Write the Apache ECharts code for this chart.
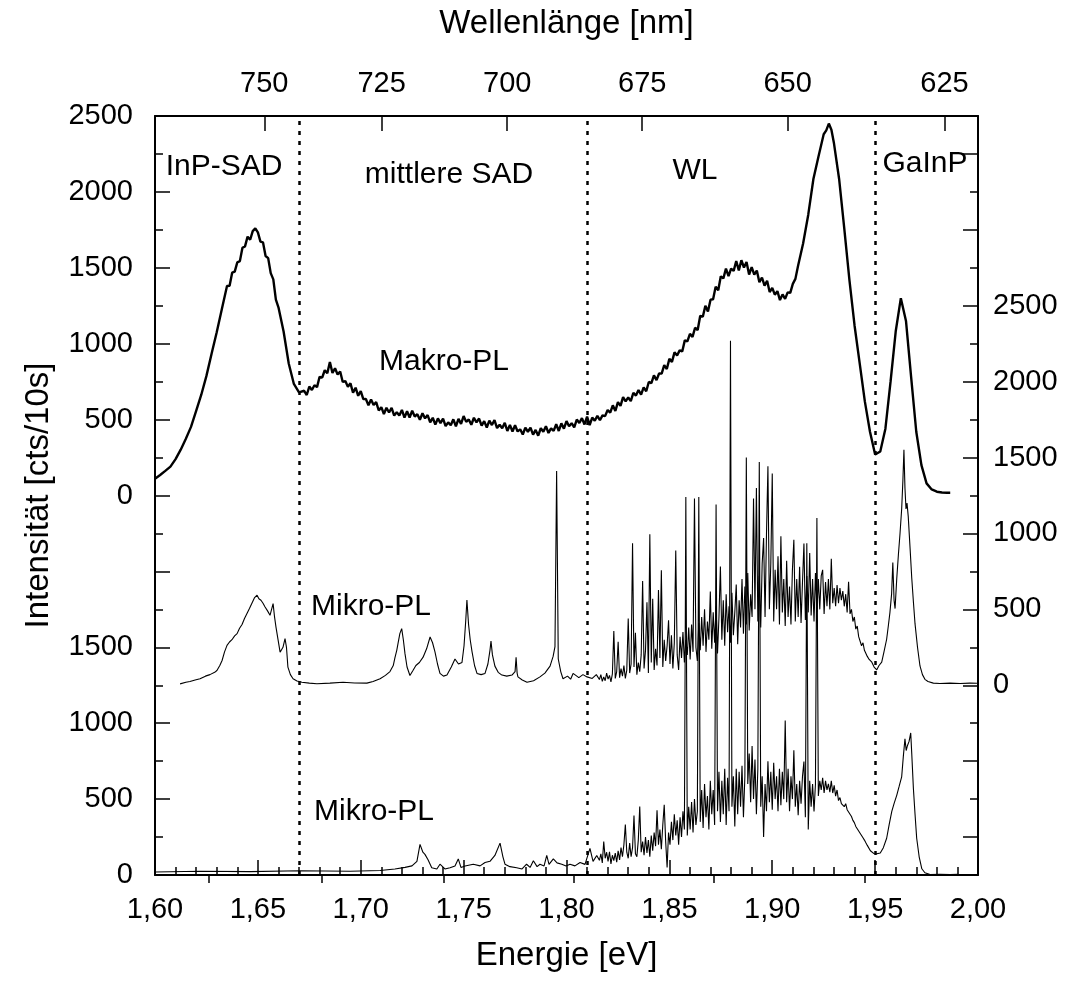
<!DOCTYPE html>
<html><head><meta charset="utf-8">
<script src="https://cdn.jsdelivr.net/npm/echarts@6/dist/echarts.min.js"></script>
<style>html,body{margin:0;padding:0;background:#fff}#c{width:1068px;height:988px}</style>
</head><body><div id="c"></div>
<script>
// ---------- data ----------
const wavelengthTicks = [750, 725, 700, 675, 650, 625];
const wavelengthMinorTicks = [762.5, 737.5, 712.5, 687.5, 662.5, 637.5];
const regionBounds = [1.671, 1.809, 1.9495];
const lowerTickLabels = [0, 500, 1000, 1500];
const upperTickLabels = [0, 500, 1000, 1500, 2000, 2500];
const rightTickLabels = [0, 500, 1000, 1500, 2000, 2500];
const makroOffset = 2500;    // Makro-PL zero on the left scale
const mikroTopOffset = 1250; // upper Mikro-PL zero on the left scale

// Makro-PL [energy eV, counts]
const makroPL = [[1.6000,110],[1.6025,135],[1.6050,162],[1.6075,190],[1.6100,240],[1.6125,302],[1.6150,374],[1.6175,452],[1.6200,558],[1.6225,664],[1.6250,788],[1.6275,934],[1.6300,1076],[1.6325,1228],
[1.63500,1380],[1.63625,1382],[1.63750,1468],[1.63875,1475],[1.64000,1536],[1.64125,1544],[1.64250,1632],[1.64375,1641],[1.64500,1705],[1.64625,1685],[1.64750,1742],[1.64875,1760],[1.65000,1733],[1.65125,1672],[1.65250,1667],[1.65375,1578],[1.65500,1564],[1.65625,1465],[1.65750,1424],[1.65875,1290],[1.66000,1240],
[1.6625,1080],[1.6650,870],[1.6675,735],[1.6700,680],
[1.67250,690],[1.67375,662],[1.67500,718],[1.67625,695],[1.67750,726],[1.67875,714],[1.68000,782],[1.68125,776],[1.68250,825],[1.68375,805],[1.68500,880],[1.68625,807],[1.68750,838],[1.68875,797],[1.69000,817],[1.69125,748],[1.69250,754],[1.69375,717],[1.69500,739],[1.69625,677],[1.69750,710],[1.69875,657],[1.70000,688],[1.70125,635],[1.70250,636],[1.70375,594],[1.70500,632],[1.70625,596],[1.70750,615],[1.70875,560],[1.71000,582],[1.71125,537],[1.71250,578],[1.71375,547],[1.71500,577],[1.71625,526],[1.71750,549],[1.71875,527],[1.72000,564],[1.72125,513],[1.72250,555],[1.72375,514],[1.72500,558],[1.72625,520],[1.72750,536],[1.72875,499],[1.73000,542],[1.73125,508],[1.73250,530],[1.73375,482],[1.73500,512],[1.73625,467],[1.73750,508],[1.73875,477],[1.74000,507],[1.74125,457],[1.74250,482],[1.74375,463],[1.74500,502],[1.74625,456],[1.74750,505],[1.74875,472],[1.75000,523],[1.75125,485],[1.75250,501],[1.75375,466],[1.75500,512],[1.75625,482],[1.75750,507],[1.75875,460],[1.76000,490],[1.76125,448],[1.76250,493],[1.76375,464],[1.76500,497],[1.76625,444],[1.76750,466],[1.76875,443],[1.77000,479],[1.77125,425],[1.77250,465],[1.77375,422],[1.77500,463],[1.77625,422],[1.77750,436],[1.77875,402],[1.78000,447],[1.78125,420],[1.78250,447],[1.78375,401],[1.78500,432],[1.78625,394],[1.78750,443],[1.78875,420],[1.79000,457],[1.79125,412],[1.79250,442],[1.79375,426],[1.79500,469],[1.79625,425],[1.79750,475],[1.79875,440],[1.80000,490],[1.80125,456],[1.80250,476],[1.80375,448],[1.80500,500],[1.80625,478],[1.80750,510],[1.80875,468],[1.81000,520],[1.81125,464],[1.81250,513],[1.81375,492],[1.81500,525],[1.81625,496],[1.81750,528],[1.81875,523],[1.82000,563],[1.82125,546],[1.82250,594],[1.82375,557],[1.82500,615],[1.82625,590],[1.82750,648],[1.82875,620],[1.83000,646],[1.83125,622],[1.83250,677],[1.83375,658],[1.83500,695],[1.83625,665],[1.83750,712],[1.83875,687],[1.84000,748],[1.84125,740],[1.84250,792],[1.84375,760],[1.84500,804],[1.84625,803],[1.84750,859],[1.84875,833],[1.85000,900],[1.85125,880],[1.85250,943],[1.85375,922],[1.85500,956],[1.85625,949],[1.85750,1022],[1.85875,1016],[1.86000,1065],[1.86125,1045],[1.86250,1105],[1.86375,1090],[1.86500,1184],[1.86625,1178],[1.86750,1250],[1.86875,1212],[1.87000,1290],[1.87125,1293],[1.87250,1376],[1.87375,1352],[1.87500,1444],[1.87625,1430],[1.87750,1495],[1.87875,1445],[1.88000,1495],[1.88125,1480],[1.88250,1545],[1.88375,1483],[1.88500,1550],[1.88625,1502],[1.88750,1538],[1.88875,1456],[1.89000,1504],[1.89125,1455],[1.89250,1482],[1.89375,1405],[1.89500,1436],[1.89625,1382],[1.89750,1415],[1.89875,1340],[1.90000,1368],[1.90125,1323],[1.90250,1346],[1.90375,1287],[1.90500,1325],[1.90625,1295],[1.90750,1338],[1.90875,1335],[1.91000,1394],[1.91125,1427],[1.91250,1510],
[1.9150,1660],[1.9175,1850],[1.9200,2085],[1.9225,2235],[1.9250,2380],[1.92625,2405],[1.9275,2450],[1.92875,2410],[1.9300,2320],[1.9325,2085],[1.9350,1760],[1.9375,1420],[1.9400,1120],[1.9425,870],[1.9450,620],[1.9475,420],[1.9500,270],[1.9525,290],[1.9550,440],[1.9575,750],[1.9600,1080],[1.9625,1300],[1.9650,1150],[1.9675,780],[1.9700,420],[1.9725,200],[1.9750,80],[1.9775,40],[1.9800,25],[1.9825,20],[1.9850,18],[1.9865,18]];

// upper Mikro-PL, sparse part [energy eV, counts]
const mikroTopLow = [[1.6122,9],[1.6150,20],[1.6170,25],[1.6195,35],[1.6219,43],[1.6245,60],[1.6267,70],[1.6290,85],[1.6301,97],[1.6315,130],[1.6326,163],[1.6338,220],[1.6350,263],[1.6362,285],[1.6374,300],[1.6387,325],[1.6399,340],[1.6411,375],[1.6423,400],[1.6435,440],[1.6447,472],[1.6459,505],[1.6471,540],[1.6483,575],[1.6496,593],[1.6505,570],[1.6515,560],[1.6525,540],[1.6535,516],[1.6547,490],[1.6559,461],[1.6567,470],[1.6574,538],[1.6581,450],[1.6588,383],[1.6598,300],[1.6608,218],[1.6615,215],[1.6622,250],[1.6632,307],[1.6639,250],[1.6646,119],[1.6658,70],[1.6671,43],[1.6690,28],[1.6714,20],[1.6750,14],[1.6787,10],[1.6850,14],[1.6914,20],[1.6970,15],[1.7030,14],[1.7060,25],[1.7094,43],[1.7120,65],[1.7142,90],[1.7158,130],[1.7166,180],[1.7175,230],[1.7181,274],[1.7190,340],[1.7199,373],[1.7207,300],[1.7215,208],[1.7225,120],[1.7239,64],[1.7253,95],[1.7268,130],[1.7285,150],[1.7303,185],[1.7320,240],[1.7337,318],[1.7349,280],[1.7361,218],[1.7373,140],[1.7385,78],[1.7402,60],[1.7419,67],[1.7440,120],[1.7458,173],[1.7475,140],[1.7492,150],[1.7502,260],[1.7510,420],[1.7516,562],[1.7524,400],[1.7532,300],[1.7541,220],[1.7553,130],[1.7565,78],[1.7585,70],[1.7604,78],[1.7618,140],[1.7628,230],[1.7633,291],[1.7640,200],[1.7652,126],[1.7668,85],[1.7686,67],[1.7710,60],[1.7735,67],[1.7750,90],[1.7755,185],[1.7760,80],[1.7764,55],[1.7785,35],[1.7808,20],[1.7840,30],[1.7871,55],[1.7895,80],[1.7920,126],[1.7935,190],[1.7944,255],[1.7952,1412],[1.7960,173],[1.7972,90],[1.7983,43],[1.8005,60],[1.8020,40],[1.8032,78],[1.8060,50],[1.8080,70],[1.8100,55],[1.8125,45],[1.8145,70]];
const mikroTopHigh = [[1.9471,170],[1.9484,152],[1.9495,120],[1.9508,102],[1.9519,130],[1.9532,152],[1.9543,220],[1.9556,303],[1.9565,400],[1.9572,480],[1.9580,600],[1.9586,808],[1.9592,560],[1.9597,505],[1.9605,700],[1.9613,858],[1.9621,1000],[1.9629,1161],[1.9635,1350],[1.9640,1552],[1.9645,1300],[1.9650,1161],[1.9655,1200],[1.9661,1111],[1.9670,900],[1.9678,707],[1.9686,550],[1.9694,404],[1.9706,250],[1.9718,127],[1.9730,70],[1.9742,39],[1.9757,25],[1.9783,14],[1.9815,12],[1.9864,14],[1.9913,12],[1.9961,14],[1.9995,13]];

// lower Mikro-PL, sparse parts [energy eV, counts]
const mikroBottomLow = [[1.6000,20],[1.6219,25],[1.6462,22],[1.6705,28],[1.6948,25],[1.7094,30],[1.7166,40],[1.7215,50],[1.7249,60],[1.7273,90],[1.7288,202],[1.7302,150],[1.7312,136],[1.7327,100],[1.7345,48],[1.7370,40],[1.7385,71],[1.7409,40],[1.7434,48],[1.7458,60],[1.7474,106],[1.7487,50],[1.7507,59],[1.7547,71],[1.7580,60],[1.7604,82],[1.7628,90],[1.7652,129],[1.7677,210],[1.7691,120],[1.7701,71],[1.7725,55],[1.7758,48],[1.7784,40],[1.7806,71],[1.7823,50],[1.7839,94],[1.7857,55],[1.7871,71],[1.7891,60],[1.7904,129],[1.7915,70],[1.7936,106],[1.7954,80],[1.7977,71],[1.7998,60],[1.8017,71],[1.8041,60],[1.8066,82],[1.8090,70],[1.8114,175],[1.8129,90],[1.8147,129]];
const mikroBottomHigh = [[1.9477,160],[1.9493,142],[1.9509,140],[1.9525,145],[1.9540,180],[1.9556,242],[1.9568,330],[1.9581,419],[1.9592,470],[1.9605,525],[1.9616,580],[1.9629,646],[1.9637,780],[1.9645,898],[1.9651,820],[1.9656,848],[1.9665,880],[1.9673,936],[1.9678,800],[1.9686,570],[1.9694,400],[1.9702,242],[1.9714,120],[1.9727,41],[1.9742,15],[1.9767,3],[1.9815,5],[1.9864,3],[1.9903,4]];

// dense wetting-layer region: energies and counts of both Mikro-PL spectra
const denseEnergy = [1.8160,1.8167,1.8174,1.8181,1.8188,1.8195,1.8202,1.8209,1.8216,1.8223,1.8230,1.8237,1.8244,1.8251,1.8258,1.8265,1.8272,1.8279,1.8286,1.8293,1.8300,1.8307,1.8314,1.8321,1.8328,1.8335,1.8342,1.8349,1.8356,1.8363,1.8370,1.8377,1.8384,1.8391,1.8398,1.8405,1.8412,1.8419,1.8426,1.8433,1.8440,1.8447,1.8454,1.8461,1.8468,1.8475,1.8482,1.8489,1.8496,1.8503,1.8510,1.8517,1.8524,1.8531,1.8538,1.8545,1.8552,1.8559,1.8566,1.8573,1.8580,1.8587,1.8594,1.8601,1.8608,1.8615,1.8622,1.8629,1.8636,1.8643,1.8650,1.8657,1.8664,1.8671,1.8678,1.8685,1.8692,1.8699,1.8706,1.8713,1.8720,1.8727,1.8734,1.8741,1.8748,1.8755,1.8762,1.8769,1.8776,1.8783,1.8790,1.8797,1.8804,1.8811,1.8818,1.8825,1.8832,1.8839,1.8846,1.8853,1.8860,1.8867,1.8874,1.8881,1.8888,1.8895,1.8902,1.8909,1.8916,1.8923,1.8930,1.8937,1.8944,1.8951,1.8958,1.8965,1.8972,1.8979,1.8986,1.8993,1.9000,1.9007,1.9014,1.9021,1.9028,1.9035,1.9042,1.9049,1.9056,1.9063,1.9070,1.9077,1.9084,1.9091,1.9098,1.9105,1.9112,1.9119,1.9126,1.9133,1.9140,1.9147,1.9154,1.9161,1.9168,1.9175,1.9182,1.9189,1.9196,1.9203,1.9210,1.9217,1.9224,1.9231,1.9238,1.9245,1.9252,1.9259,1.9266,1.9273,1.9280,1.9287,1.9294,1.9301,1.9308,1.9315,1.9322,1.9329,1.9336,1.9343,1.9350,1.9357,1.9364,1.9371,1.9378,1.9385,1.9392,1.9399,1.9406,1.9413,1.9420,1.9427,1.9434,1.9441,1.9448,1.9455,1.9462];
const mikroTopDense = [38,70,25,55,30,80,40,65,22,75,357,45,90,286,50,110,60,130,45,100,440,80,140,935,120,345,70,150,90,200,687,110,230,546,80,994,150,569,100,240,130,628,180,758,120,300,160,260,428,140,330,110,280,887,200,100,320,180,350,150,300,200,380,170,400,220,1230,250,160,410,230,450,260,500,220,420,300,617,240,480,280,520,210,450,782,300,560,260,600,350,520,280,610,330,480,664,270,560,380,700,340,650,400,740,360,600,450,1230,500,1300,420,720,380,800,970,450,994,1442,500,800,1395,420,760,500,850,400,982,480,700,390,820,450,650,400,760,959,420,700,450,780,410,680,934,430,720,480,871,460,700,420,740,480,700,500,720,760,470,680,520,700,500,833,540,640,520,660,540,640,560,620,520,600,480,682,470,500,420,450,370,390,320,330,260,280,230,220,190];
const mikroBottomDense = [97,140,80,221,110,150,90,152,73,130,95,145,85,160,100,180,120,200,333,150,110,210,120,180,392,140,121,230,451,150,220,130,250,145,230,120,260,160,280,190,427,200,300,170,330,463,220,50,280,200,350,230,400,260,360,200,380,250,420,300,2490,260,450,300,480,280,500,330,420,2490,350,560,310,600,380,520,300,620,400,560,330,2440,420,680,350,620,400,700,330,640,420,3520,450,650,320,700,400,680,450,720,380,650,2750,600,800,480,850,500,760,400,700,2720,450,650,250,600,420,750,480,680,430,740,500,650,420,700,460,680,500,1017,480,700,420,650,500,822,450,600,394,620,470,650,747,380,2186,300,620,450,600,419,600,2351,520,620,560,640,540,620,560,600,545,620,540,590,520,560,490,510,470,480,450,470,430,415,400,385,360,345,320,305,290,275,262,245,230,212,195];

// ---------- chart ----------
const HC = 1239.84; // eV*nm
const FONT = "'Liberation Sans', Arial, sans-serif";
const BLACK = '#000';
const toEnergy = w => HC / w;
const zipDense = vals => denseEnergy.map((e, i) => [e, vals[i]]);
const mikroPLTop = mikroTopLow.concat(zipDense(mikroTopDense), mikroTopHigh);
const mikroPLBottom = mikroBottomLow.concat(zipDense(mikroBottomDense), mikroBottomHigh);

const leftLabelValues = lowerTickLabels.concat(upperTickLabels.map(v => v + makroOffset));
const leftMajor = [], leftMinor = [], rightMajor = [], rightMinor = [];
for (let v = 0; v <= 5000; v += 250) ((v % 500) ? leftMinor : leftMajor).push(v);
for (let v = -1250; v <= 3750; v += 250) ((v % 500) ? rightMinor : rightMajor).push(v);

const tickStyle = {color: BLACK, width: 1.5};
const labelStyle = {fontSize: 29, fontFamily: FONT, color: BLACK};
const nameStyle = {fontSize: 33, fontFamily: FONT, color: BLACK};

const chart = echarts.init(document.getElementById('c'), null, {renderer: 'canvas'});
chart.setOption({
  animation: false,
  backgroundColor: '#fff',
  grid: {left: 155, right: 90, top: 116, bottom: 113, containLabel: false},
  xAxis: [
    {type: 'value', position: 'bottom', min: 1.6, max: 2.0, interval: 0.05,
     axisLine: {show: true, onZero: false, lineStyle: {color: BLACK, width: 2}},
     axisTick: {show: true, inside: true, length: 15, lineStyle: tickStyle},
     minorTick: {show: true, splitNumber: 5, length: 8, lineStyle: tickStyle},
     splitLine: {show: false}, minorSplitLine: {show: false},
     axisLabel: Object.assign({margin: 20, formatter: v => v.toFixed(2).replace('.', ',')}, labelStyle),
     name: 'Energie [eV]', nameLocation: 'middle', nameGap: 64, nameTextStyle: nameStyle},
    {type: 'value', position: 'top', min: 1.6, max: 2.0,
     axisLine: {show: true, onZero: false, lineStyle: {color: BLACK, width: 2}},
     axisTick: {show: true, inside: true, length: 15, lineStyle: tickStyle, customValues: wavelengthTicks.map(toEnergy)},
     splitLine: {show: false},
     axisLabel: Object.assign({margin: 18, customValues: wavelengthTicks.map(toEnergy),
       formatter: v => String(Math.round(HC / v))}, labelStyle),
     name: 'Wellenlänge [nm]', nameLocation: 'middle', nameGap: 76, nameTextStyle: nameStyle},
    {type: 'value', position: 'top', min: 1.6, max: 2.0,
     axisLine: {show: false},
     axisTick: {show: true, inside: true, length: 8, lineStyle: tickStyle, customValues: wavelengthMinorTicks.map(toEnergy)},
     axisLabel: {show: false}, splitLine: {show: false}}
  ],
  yAxis: [
    {type: 'value', position: 'left', min: 0, max: 5000, interval: 500,
     axisLine: {show: true, onZero: false, lineStyle: {color: BLACK, width: 2}},
     axisTick: {show: true, inside: true, length: 15, lineStyle: tickStyle, customValues: leftMajor},
     splitLine: {show: false},
     axisLabel: Object.assign({margin: 22, customValues: leftLabelValues,
       formatter: v => String(v >= makroOffset ? v - makroOffset : v)}, labelStyle),
     name: 'Intensität [cts/10s]', nameLocation: 'middle', nameGap: 100, nameTextStyle: nameStyle},
    {type: 'value', position: 'left', min: 0, max: 5000,
     axisLine: {show: false},
     axisTick: {show: true, inside: true, length: 8, lineStyle: tickStyle, customValues: leftMinor},
     axisLabel: {show: false}, splitLine: {show: false}},
    {type: 'value', position: 'right', min: -mikroTopOffset, max: 5000 - mikroTopOffset,
     axisLine: {show: true, onZero: false, lineStyle: {color: BLACK, width: 2}},
     axisTick: {show: true, inside: true, length: 15, lineStyle: tickStyle, customValues: rightMajor},
     splitLine: {show: false},
     axisLabel: Object.assign({margin: 15, customValues: rightTickLabels, formatter: v => String(v)}, labelStyle)},
    {type: 'value', position: 'right', min: -mikroTopOffset, max: 5000 - mikroTopOffset,
     axisLine: {show: false},
     axisTick: {show: true, inside: true, length: 8, lineStyle: tickStyle, customValues: rightMinor},
     axisLabel: {show: false}, splitLine: {show: false}},
    {type: 'value', show: false, min: -makroOffset, max: 5000 - makroOffset}
  ],
  series: [
    {name: 'Makro-PL', type: 'line', xAxisIndex: 0, yAxisIndex: 4, data: makroPL,
     showSymbol: false, symbol: 'none', lineStyle: {color: BLACK, width: 2.4}, silent: true},
    {name: 'Mikro-PL oben', type: 'line', xAxisIndex: 0, yAxisIndex: 2, data: mikroPLTop,
     showSymbol: false, symbol: 'none', lineStyle: {color: BLACK, width: 1.1}, silent: true},
    {name: 'Mikro-PL unten', type: 'line', xAxisIndex: 0, yAxisIndex: 0, data: mikroPLBottom,
     showSymbol: false, symbol: 'none', lineStyle: {color: BLACK, width: 1.1}, silent: true,
     markLine: {silent: true, symbol: ['none', 'none'], label: {show: false},
       lineStyle: {color: BLACK, width: 2.5, type: [4, 6]},
       data: regionBounds.map(e => ({xAxis: e}))}}
  ],
  graphic: [
    ['InP-SAD', 224, 167], ['mittlere SAD', 449, 175], ['WL', 695, 171], ['GaInP', 925, 164],
    ['Makro-PL', 444, 362], ['Mikro-PL', 371, 607], ['Mikro-PL', 374, 812]
  ].map(([t, x, y]) => ({type: 'text', x: x, y: y, silent: true,
     style: {text: t, fontSize: 30, fontFamily: FONT, fill: BLACK, align: 'center', verticalAlign: 'middle'}}))
});
</script>
</body></html>
